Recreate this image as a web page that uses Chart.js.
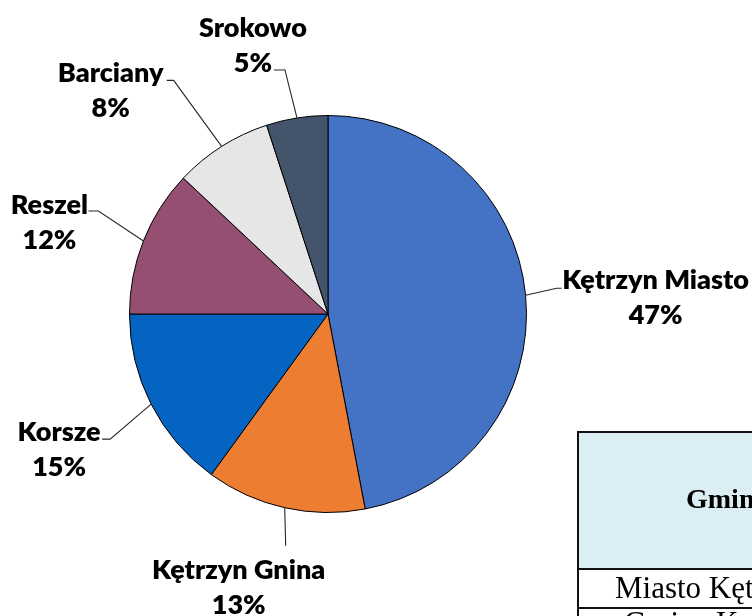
<!DOCTYPE html>
<html><head><meta charset="utf-8">
<script src="https://cdn.jsdelivr.net/npm/chart.js@4.4.1/dist/chart.umd.min.js"></script>
<style>
html,body{margin:0;padding:0;background:#fff;overflow:hidden;width:752px;height:616px;}
#c{position:absolute;left:0;top:0;}
#tbl{position:absolute;left:577px;top:431px;width:400px;height:260px;border-left:2px solid #111;border-top:2px solid #111;font-family:"Liberation Serif","Times New Roman",serif;color:#000;}
#hdr{position:absolute;left:0;top:0;width:100%;height:135px;background:#DAEEF3;border-bottom:2px solid #111;}
#hdr span{position:absolute;left:107px;top:50px;font-weight:bold;font-size:28px;}
.row{position:absolute;left:0;width:100%;height:37px;border-bottom:2px solid #111;}
.row span{position:absolute;top:2px;font-size:31px;line-height:31px;white-space:nowrap;}
</style></head><body>
<canvas id="c" width="752" height="616"></canvas>
<div id="tbl">
  <div id="hdr"><span>Gmina</span></div>
  <div class="row" style="top:137px"><span style="left:36px">Miasto Kętrzyn</span></div>
  <div class="row" style="top:176px"><span style="left:45px;top:-2px">Gmina Kętrzyn</span></div>
</div>
<script>
const categories = ['Kętrzyn Miasto', 'Kętrzyn Gnina', 'Korsze', 'Reszel', 'Barciany', 'Srokowo'];
const shares = [47, 13, 15, 12, 8, 5];
const sliceColors = ['#4472C4', '#ED7D31', '#0563C1', '#954F72', '#E7E6E6', '#44546A'];

// label placement relative to the slice's outer-edge midpoint (styling only)
const labelLayout = [
  { text: [130, -15], elbow: [31, -7], end: [36, -7] },
  { text: [-46, 63], elbow: [1, 38], end: [1, 38] },
  { text: [-92, 28], elbow: [-41, 35], end: [-49, 35] },
  { text: [-94, -36], elbow: [-45, -30], end: [-55, -30] },
  { text: [-111, -73], elbow: [-48, -66], end: [-55, -66] },
  { text: [-44, -90], elbow: [-12, -48], end: [-23, -48] }
];

const total = shares.reduce((a, b) => a + b, 0);
const percentLabels = shares.map(v => Math.round(v / total * 100) + '%');

const outsideLabels = {
  id: 'outsideLabels',
  afterDatasetsDraw(chart) {
    const ctx = chart.ctx;
    const meta = chart.getDatasetMeta(0);
    meta.data.forEach((arc, i) => {
      const p = arc.getProps(['x', 'y', 'startAngle', 'endAngle', 'outerRadius'], true);
      const mid = (p.startAngle + p.endAngle) / 2;
      const ex = p.x + Math.cos(mid) * p.outerRadius;
      const ey = p.y + Math.sin(mid) * p.outerRadius;
      const L = labelLayout[i];
      ctx.save();
      ctx.strokeStyle = '#262626';
      ctx.lineWidth = 1.1;
      ctx.beginPath();
      ctx.moveTo(ex, ey);
      ctx.lineTo(ex + L.elbow[0], ey + L.elbow[1]);
      ctx.lineTo(ex + L.end[0], ey + L.end[1]);
      ctx.stroke();
      ctx.font = '800 27px Lato, "Open Sans", sans-serif';
      ctx.fillStyle = '#000';
      ctx.textAlign = 'center';
      ctx.textBaseline = 'middle';
      ctx.fillText(categories[i], ex + L.text[0], ey + L.text[1]);
      ctx.fillText(percentLabels[i], ex + L.text[0], ey + L.text[1] + 35);
      ctx.restore();
    });
  }
};

function draw() {
  new Chart(document.getElementById('c'), {
    type: 'pie',
    data: {
      labels: categories,
      datasets: [{
        data: shares,
        backgroundColor: sliceColors,
        borderColor: '#000',
        borderWidth: 1
      }]
    },
    options: {
      responsive: false,
      animation: false,
      devicePixelRatio: 1,
      layout: { padding: { left: 129, right: 225, top: 115, bottom: 103 } },
      plugins: { legend: { display: false }, tooltip: { enabled: false } }
    },
    plugins: [outsideLabels]
  });
}
if (document.fonts && document.fonts.load) {
  Promise.all([document.fonts.load('800 27px Lato'), document.fonts.load('bold 27px Lato')]).then(draw, draw);
} else { draw(); }
</script>
</body></html>
